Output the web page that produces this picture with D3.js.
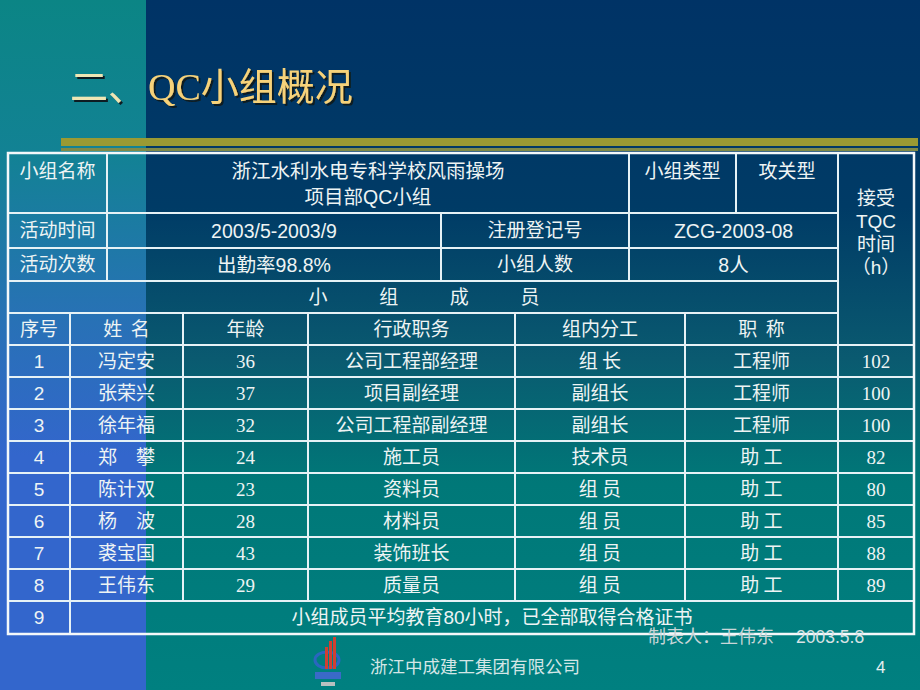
<!DOCTYPE html>
<html>
<head>
<meta charset="utf-8">
<script src="https://cdn.jsdelivr.net/npm/d3@7"></script>
<style>
  body { margin: 0; background: #003366; }
  svg { display: block; }
</style>
</head>
<body>
<svg id="slide"></svg>
<script>
// --- data ---
var titleLead = "二、";
var titleMain = "QC小组概况";

var groupName = ["浙江水利水电专科学校风雨操场", "项目部QC小组"];
var infoKeys = ["小组名称", "活动时间", "活动次数"];
var infoVals = ["", "2003/5-2003/9", "出勤率98.8%"];
var infoKeys2 = ["小组类型", "注册登记号", "小组人数"];
var infoVals2 = ["攻关型", "ZCG-2003-08", "8人"];
var tqcHeader = ["接受", "TQC", "时间", "（h）"];
var membersTitle = ["小", "组", "成", "员"];

var headerCols = ["序号", "姓  名", "年龄", "行政职务", "组内分工", "职  称"];
var seqNo = [1, 2, 3, 4, 5, 6, 7, 8];
var names = ["冯定安", "张荣兴", "徐年福", "郑　攀", "陈计双", "杨　波", "裘宝国", "王伟东"];
var ages = [36, 37, 32, 24, 23, 28, 43, 29];
var posts = ["公司工程部经理", "项目副经理", "公司工程部副经理", "施工员", "资料员", "材料员", "装饰班长", "质量员"];
var roles = ["组 长", "副组长", "副组长", "技术员", "组 员", "组 员", "组 员", "组 员"];
var titles = ["工程师", "工程师", "工程师", "助 工", "助 工", "助 工", "助 工", "助 工"];
var tqcHours = [102, 100, 100, 82, 80, 85, 88, 89];
var lastNo = 9;
var lastNote = "小组成员平均教育80小时，已全部取得合格证书";
var maker = "制表人：王伟东";
var makeDate = "2003.5.8";
var company = "浙江中成建工集团有限公司";
var pageNo = "4";

// --- layout ---
var W = 920, H = 690;
var topCols = [8, 107, 441, 629, 736, 838, 914];
var memCols = [8, 70, 183, 308, 515, 685, 838, 914];
var topRows = [153, 213, 248, 281, 313, 345];
var lastRow = [601, 634];

var cnFont = "'Noto Sans CJK SC', sans-serif";
var arial = "'Liberation Sans', 'Noto Sans CJK SC', sans-serif";
var times = "'Liberation Serif', 'Noto Sans CJK SC', serif";
var lineCol = "#e6f2f6";
var txtCol = "#eef4f4";
var FS = 19;

var svg = d3.select("#slide").attr("width", W).attr("height", H);
var defs = svg.append("defs");

var gl = defs.append("linearGradient").attr("id", "bgLeft")
  .attr("x1", 0).attr("y1", 0).attr("x2", 0).attr("y2", 1);
[[0, "#0b8585"], [0.22, "#128294"], [0.45, "#2772b4"], [0.66, "#3366cc"], [1, "#3366cc"]]
  .forEach(function (s) { gl.append("stop").attr("offset", s[0]).attr("stop-color", s[1]); });

var gr = defs.append("linearGradient").attr("id", "bgRight")
  .attr("x1", 0).attr("y1", 0).attr("x2", 0).attr("y2", 1);
[[0, "#003366"], [0.3, "#003b66"], [0.52, "#0a5a70"], [0.7, "#007878"], [1, "#008080"]]
  .forEach(function (s) { gr.append("stop").attr("offset", s[0]).attr("stop-color", s[1]); });

var shadow = defs.append("filter").attr("id", "shadow")
  .attr("x", "-10%").attr("y", "-20%").attr("width", "130%").attr("height", "150%");
shadow.append("feDropShadow").attr("dx", 2).attr("dy", 2).attr("stdDeviation", 0.6)
  .attr("flood-color", "#081a24").attr("flood-opacity", 1);

svg.append("rect").attr("x", 0).attr("y", 0).attr("width", 146).attr("height", H).attr("fill", "url(#bgLeft)");
svg.append("rect").attr("x", 146).attr("y", 0).attr("width", W - 146).attr("height", H).attr("fill", "url(#bgRight)");

// olive rules under title
svg.append("rect").attr("x", 61).attr("y", 138).attr("width", 857).attr("height", 8).attr("fill", "#9a9a33");
svg.append("rect").attr("x", 61).attr("y", 148).attr("width", 857).attr("height", 3).attr("fill", "#7f8a48");

// title
var t = svg.append("text").attr("x", 70).attr("y", 100)
  .attr("font-family", "'Liberation Serif', 'Noto Sans CJK SC', serif").attr("font-size", 38)
  .attr("filter", "url(#shadow)");
t.append("tspan").attr("fill", "#eee6b4").text(titleLead);
t.append("tspan").attr("dx", 2).attr("fill", "#f6d27a").text(titleMain);

var table = svg.append("g");

function cell(x0, x1, y0, y1) {
  table.append("rect").attr("x", x0).attr("y", y0)
    .attr("width", x1 - x0).attr("height", y1 - y0)
    .attr("fill", "none").attr("stroke", lineCol).attr("stroke-width", 2);
}
function label(x, y, str, font, size, col) {
  table.append("text").attr("x", x).attr("y", y).attr("dy", "0.36em")
    .attr("text-anchor", "middle").attr("font-family", font)
    .attr("font-size", size || FS).attr("fill", col || txtCol)
    .attr("xml:space", "preserve").style("white-space", "pre").text(str);
}
function mid(a, b) { return (a + b) / 2; }

// top info block
infoKeys.forEach(function (k, r) {
  var y0 = topRows[r], y1 = topRows[r + 1];
  var yc = r === 0 ? y0 + 18 : mid(y0, y1);
  cell(topCols[0], topCols[1], y0, y1);
  label(mid(topCols[0], topCols[1]), yc, k, cnFont);
  if (r === 0) {
    cell(topCols[1], topCols[3], y0, y1);
    groupName.forEach(function (s, j) {
      label(mid(topCols[1], topCols[3]), yc + j * 26, s, arial, 19.5);
    });
    cell(topCols[3], topCols[4], y0, y1);
    label(mid(topCols[3], topCols[4]), yc, infoKeys2[r], cnFont);
    cell(topCols[4], topCols[5], y0, y1);
    label(mid(topCols[4], topCols[5]), yc, infoVals2[r], cnFont);
  } else {
    cell(topCols[1], topCols[2], y0, y1);
    label(mid(topCols[1], topCols[2]), yc, infoVals[r], arial, 19.5);
    cell(topCols[2], topCols[3], y0, y1);
    label(mid(topCols[2], topCols[3]), yc, infoKeys2[r], cnFont);
    cell(topCols[3], topCols[5], y0, y1);
    label(mid(topCols[3], topCols[5]), yc, infoVals2[r], arial, 19.5);
  }
});

// TQC column header spanning the top rows
cell(topCols[5], topCols[6], topRows[0], topRows[5]);
var tqcY = d3.scalePoint().domain(tqcHeader).range([198, 267]);
tqcHeader.forEach(function (s) {
  label(mid(topCols[5], topCols[6]), tqcY(s), s, arial);
});

// "小 组 成 员" banner row
cell(topCols[0], topCols[5], topRows[3], topRows[4]);
var banX = d3.scalePoint().domain(membersTitle).range([318, 530]);
membersTitle.forEach(function (s) {
  label(banX(s), mid(topRows[3], topRows[4]), s, cnFont);
});

// column header row
headerCols.forEach(function (h, i) {
  cell(memCols[i], memCols[i + 1], topRows[4], topRows[5]);
  label(mid(memCols[i], memCols[i + 1]), mid(topRows[4], topRows[5]), h, cnFont);
});

// member rows
var y = d3.scaleBand().domain(seqNo).range([topRows[5], lastRow[0]]);
var colData = [
  { vals: seqNo, font: arial },
  { vals: names, font: cnFont },
  { vals: ages, font: times },
  { vals: posts, font: cnFont },
  { vals: roles, font: cnFont },
  { vals: titles, font: cnFont },
  { vals: tqcHours, font: times }
];
seqNo.forEach(function (n, r) {
  colData.forEach(function (c, i) {
    var y0 = y(n), y1 = y0 + y.bandwidth();
    cell(memCols[i], memCols[i + 1], y0, y1);
    label(mid(memCols[i], memCols[i + 1]), mid(y0, y1), c.vals[r], c.font);
  });
});

// last row
cell(memCols[0], memCols[1], lastRow[0], lastRow[1]);
label(mid(memCols[0], memCols[1]), mid(lastRow[0], lastRow[1]), lastNo, arial);
cell(memCols[1], memCols[7], lastRow[0], lastRow[1]);
label(mid(memCols[1], memCols[7]), mid(lastRow[0], lastRow[1]), lastNote, arial);

// outer frame
table.append("rect").attr("x", 8).attr("y", 153).attr("width", 906).attr("height", 481)
  .attr("fill", "none").attr("stroke", "#f4f8fa").attr("stroke-width", 2.5);

// maker note (overlaps frame as on the slide)
svg.append("text").attr("x", 648).attr("y", 643).attr("font-family", cnFont)
  .attr("font-size", 18).attr("fill", "#c9d6d8").text(maker);
svg.append("text").attr("x", 796).attr("y", 643).attr("font-family", arial)
  .attr("font-size", 17.5).attr("fill", "#d8e2e4").text(makeDate);

// footer logo
var logo = svg.append("g").attr("transform", "translate(313,637)");
logo.append("ellipse").attr("cx", 14).attr("cy", 23).attr("rx", 12).attr("ry", 8)
  .attr("fill", "none").attr("stroke", "#2a66c0").attr("stroke-width", 3);
[[12, 10], [16, 4], [20, 0]].forEach(function (b) {
  logo.append("rect").attr("x", b[0]).attr("y", b[1]).attr("width", 3).attr("height", 32 - b[1]).attr("fill", "#d04030");
});
logo.append("rect").attr("x", 2).attr("y", 35).attr("width", 26).attr("height", 7).attr("fill", "#3a6ac8");
logo.append("rect").attr("x", 8).attr("y", 45).attr("width", 14).attr("height", 4).attr("fill", "#b8c0c0");

svg.append("text").attr("x", 370).attr("y", 673).attr("font-family", cnFont)
  .attr("font-size", 17.5).attr("fill", "#d4e6e6").text(company);
svg.append("text").attr("x", 876).attr("y", 673).attr("font-family", arial)
  .attr("font-size", 17).attr("fill", "#e4eeee").text(pageNo);
</script>
</body>
</html>
